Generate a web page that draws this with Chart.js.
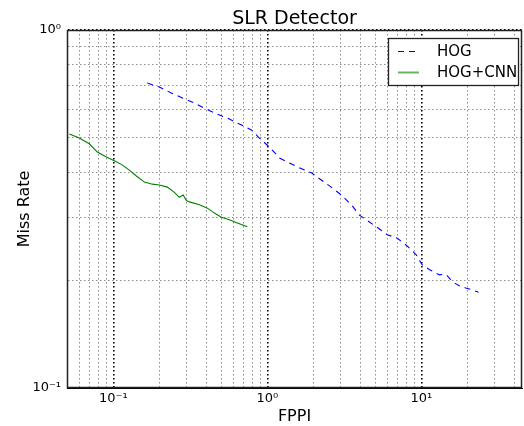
<!DOCTYPE html>
<html>
<head>
<meta charset="utf-8">
<script src="https://cdn.jsdelivr.net/npm/chart.js@4.4.1/dist/chart.umd.min.js"></script>
<style>
  html, body { margin: 0; padding: 0; background: #fff; }
  #wrap { width: 524px; height: 426px; }
</style>
</head>
<body>
<div id="wrap"><canvas id="slrChart"></canvas></div>
<script>
// data (log-log)
var hogFppi = [0.166, 0.199, 0.238, 0.281, 0.336, 0.402, 0.473, 0.567, 0.658, 0.787, 0.887, 1.03, 1.20, 1.39, 1.61, 1.93, 2.24, 2.64, 3.02, 3.51, 3.96, 4.39, 5.10, 6.01, 6.98, 8.11, 9.29, 10.1, 11.3, 13.1, 14.1, 14.7, 15.9, 17.6, 19.6, 21.4, 23.5];
var hogMiss = [0.711, 0.693, 0.667, 0.646, 0.625, 0.601, 0.582, 0.564, 0.546, 0.526, 0.499, 0.471, 0.439, 0.425, 0.412, 0.399, 0.381, 0.362, 0.346, 0.325, 0.304, 0.295, 0.282, 0.268, 0.262, 0.249, 0.235, 0.221, 0.214, 0.207, 0.208, 0.206, 0.198, 0.193, 0.190, 0.188, 0.185];

var cnnFppi = [0.0518, 0.0601, 0.0698, 0.0787, 0.0901, 0.1015, 0.114, 0.127, 0.141, 0.159, 0.179, 0.199, 0.224, 0.249, 0.268, 0.284, 0.298, 0.312, 0.362, 0.408, 0.453, 0.503, 0.567, 0.638, 0.741];
var cnnMiss = [0.512, 0.499, 0.481, 0.456, 0.442, 0.431, 0.420, 0.406, 0.391, 0.376, 0.371, 0.369, 0.364, 0.352, 0.341, 0.346, 0.334, 0.331, 0.325, 0.318, 0.308, 0.300, 0.295, 0.289, 0.282];

var seriesNames = ['HOG', 'HOG+CNN'];

// tick positions (gridlines), only decades get a label
var xTickValues = [0.05, 0.06, 0.07, 0.08, 0.09, 0.1, 0.2, 0.3, 0.4, 0.5, 0.6, 0.7, 0.8, 0.9, 1, 2, 3, 4, 5, 6, 7, 8, 9, 10, 20, 30, 40];
var yTickValues = [0.1, 0.2, 0.3, 0.4, 0.5, 0.6, 0.7, 0.8, 0.9, 1];

function toPoints(xs, ys) {
  var pts = [];
  for (var i = 0; i < xs.length; i++) {
    pts.push({ x: xs[i], y: ys[i] });
  }
  return pts;
}

//is it a power of ten?
function isDecade(v) {
  var l = Math.log10(v);
  return Math.abs(l - Math.round(l)) < 1e-6;
}

var sup = { '-': '\u207B', '0': '\u2070', '1': '\u00B9', '2': '\u00B2', '3': '\u00B3' };
function decadeLabel(v) {
  if (!isDecade(v)) return '';
  var e = String(Math.round(Math.log10(v)));
  var s = '';
  for (var i = 0; i < e.length; i++) s += sup[e[i]];
  return '10' + s;
}

var FONT = "'DejaVu Sans', sans-serif";

// frame round the plot + legend box inside it
var framePlugin = {
  id: 'frame',
  afterDraw: function (chart) {
    var ctx = chart.ctx;
    var a = chart.chartArea;
    ctx.save();
    ctx.strokeStyle = '#222';
    ctx.lineWidth = 1.5;
    ctx.strokeRect(a.left + 0.5, a.top + 0.5, a.right - a.left - 1, a.bottom - a.top - 1);

    // legend
    var bx = 388, by = 38, boxW = 130, boxH = 47;
    ctx.fillStyle = '#fff';
    ctx.fillRect(bx, by, boxW, boxH);
    ctx.lineWidth = 1.3;
    ctx.strokeRect(bx + 0.5, by + 0.5, boxW, boxH);
    ctx.font = '15px ' + FONT;
    ctx.textBaseline = 'middle';
    chart.data.datasets.forEach(function (ds, i) {
      var ly = by + 13 + i * 21;
      ctx.beginPath();
      ctx.strokeStyle = ds.borderColor;
      ctx.lineWidth = i === 0 ? 1 : 2;
      ctx.globalAlpha = i === 0 ? 1 : 0.6;
      ctx.setLineDash(ds.borderDash || []);
      ctx.moveTo(bx + 10, ly + 0.5);
      ctx.lineTo(bx + 31, ly + 0.5);
      ctx.stroke();
      ctx.setLineDash([]);
      ctx.globalAlpha = 1;
      ctx.fillStyle = '#000';
      ctx.fillText(ds.label, bx + 49, ly + 1);
    });
    ctx.restore();
  }
};

var data = {
  datasets: [{
    label: seriesNames[0],
    data: toPoints(hogFppi, hogMiss),
    borderColor: '#0000ff',
    borderWidth: 1.1,
    borderDash: [6, 5],
    pointRadius: 0,
    tension: 0,
    fill: false
  }, {
    label: seriesNames[1],
    data: toPoints(cnnFppi, cnnMiss),
    borderColor: '#008000',
    borderWidth: 1.1,
    pointRadius: 0,
    tension: 0,
    fill: false
  }]
};

function gridColor(c) {
  return (c.tick && isDecade(c.tick.value)) ? '#000' : '#808080';
}
function gridWidth(c) {
  return (c.tick && isDecade(c.tick.value)) ? 1.6 : 0.9;
}

var config = {
  type: 'line',
  data: data,
  plugins: [framePlugin],
  options: {
    responsive: false,
    animation: false,
    layout: { padding: { left: 0, right: 2, top: 0, bottom: 0 } },
    plugins: {
      legend: { display: false },
      tooltip: { enabled: false },
      title: {
        display: true,
        text: 'SLR Detector',
        fullSize: false,
        color: '#000',
        font: { family: FONT, size: 19, weight: 'normal', lineHeight: 1.0 },
        padding: { top: 10, bottom: 1 }
      }
    },
    scales: {
      x: {
        type: 'logarithmic',
        min: 0.05,
        max: 45,
        afterBuildTicks: function (scale) {
          scale.ticks = xTickValues.map(function (v) { return { value: v }; });
        },
        afterFit: function (scale) { scale.height = 38; },
        ticks: {
          autoSkip: false,
          maxRotation: 0,
          padding: 3,
          color: '#000',
          font: { family: FONT, size: 13 },
          callback: function (value) { return decadeLabel(value); }
        },
        grid: { color: gridColor, lineWidth: gridWidth, drawTicks: false },
        border: { color: '#000', width: 1, dash: [1.5, 2.5] },
        title: {
          display: true,
          text: 'FPPI',
          color: '#000',
          font: { family: FONT, size: 16 },
          padding: { top: 0, bottom: 0 }
        }
      },
      y: {
        type: 'logarithmic',
        min: 0.1,
        max: 1,
        afterBuildTicks: function (scale) {
          scale.ticks = yTickValues.map(function (v) { return { value: v }; });
        },
        afterFit: function (scale) { scale.width = 67; },
        ticks: {
          autoSkip: false,
          padding: 6,
          color: '#000',
          font: { family: FONT, size: 13 },
          callback: function (value) { return decadeLabel(value); }
        },
        grid: { color: gridColor, lineWidth: gridWidth, drawTicks: false },
        border: { color: '#000', width: 1, dash: [1.5, 2.5] },
        title: {
          display: true,
          text: 'Miss Rate',
          color: '#000',
          font: { family: FONT, size: 16 },
          padding: { top: 15, bottom: 0 }
        }
      }
    }
  }
};

var canvas = document.getElementById('slrChart');
canvas.width = 524;
canvas.height = 426;
var slrChart = new Chart(canvas, config);
</script>
</body>
</html>
